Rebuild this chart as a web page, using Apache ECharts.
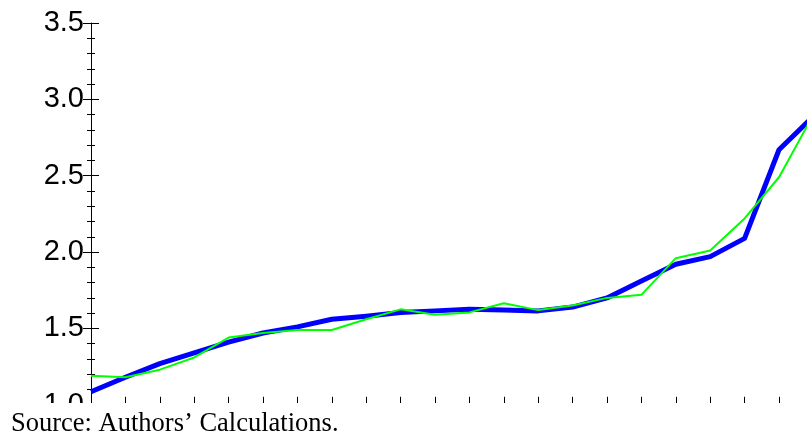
<!DOCTYPE html>
<html>
<head>
<meta charset="utf-8">
<script src="https://cdn.jsdelivr.net/npm/echarts@6/dist/echarts.min.js"></script>
<style>
html,body{margin:0;padding:0;background:#fff;}
#chart{width:807px;height:439px;}
</style>
</head>
<body>
<div id="chart"></div>
<script>
var categories = ['1','2','3','4','5','6','7','8','9','10','11','12','13','14','15','16','17','18','19','20','21','22'];
var blueSeries = [1.085,1.18,1.27,1.34,1.41,1.47,1.51,1.56,1.58,1.605,1.615,1.625,1.62,1.615,1.64,1.70,1.81,1.92,1.97,2.09,2.67,2.89];
var greenSeries = [1.19,1.18,1.23,1.31,1.44,1.47,1.49,1.49,1.56,1.625,1.59,1.605,1.665,1.62,1.65,1.70,1.72,1.96,2.01,2.22,2.49,2.90];
var yTicks = {min:1.0, max:3.5, interval:0.5};
var sourceText = 'Source: Authors\u2019 Calculations.';

var chart = echarts.init(document.getElementById('chart'), null, {renderer:'canvas'});
var labelFont = '"Liberation Sans",Arial,sans-serif';
chart.setOption({
  animation:false,
  backgroundColor:'#ffffff',
  grid:{left:91, top:23, width:722.4, height:381.8, containLabel:false, outerBoundsMode:'none'},
  xAxis:{
    type:'category', data:categories, boundaryGap:false,
    axisLine:{show:false},
    axisTick:{show:true, inside:true, length:8, interval:0, lineStyle:{color:'#000', width:1}},
    axisLabel:{show:false},
    splitLine:{show:false}
  },
  yAxis:[{
    type:'value', min:yTicks.min, max:yTicks.max, interval:yTicks.interval,
    axisLine:{show:true, lineStyle:{color:'#000', width:1}},
    axisTick:{show:true, inside:false, length:8, lineStyle:{color:'#000', width:1}},
    minorTick:{show:true, splitNumber:5, length:4, lineStyle:{color:'#000', width:1}},
    axisLabel:{show:true, margin:7, color:'#000', fontSize:29, fontFamily:labelFont,
      formatter:function(v){return v.toFixed(1);}},
    splitLine:{show:false}, minorSplitLine:{show:false}
  },{
    type:'value', position:'left', offset:0, min:yTicks.min, max:yTicks.max, interval:yTicks.interval,
    axisLine:{show:false},
    axisTick:{show:true, inside:true, length:8, lineStyle:{color:'#000', width:1}},
    minorTick:{show:true, splitNumber:5, length:4, lineStyle:{color:'#000', width:1}},
    axisLabel:{show:false},
    splitLine:{show:false}, minorSplitLine:{show:false}
  }],
  series:[{
    type:'line', data:blueSeries, yAxisIndex:0, showSymbol:false, symbol:'none',
    lineStyle:{color:'#0000ff', width:5, join:'round'}, z:2
  },{
    type:'line', data:greenSeries, yAxisIndex:0, showSymbol:false, symbol:'none',
    lineStyle:{color:'#00ff00', width:2}, z:3
  }],
  graphic:[{
    type:'rect', z:100,
    shape:{x:0, y:403, width:807, height:36},
    style:{fill:'#ffffff'}
  },{
    type:'text', z:101,
    style:{x:11, y:424, text:sourceText, fill:'#000',
      font:'26.5px "Liberation Serif","Times New Roman",serif', textVerticalAlign:'middle', verticalAlign:'middle'}
  }]
});
</script>
</body>
</html>
